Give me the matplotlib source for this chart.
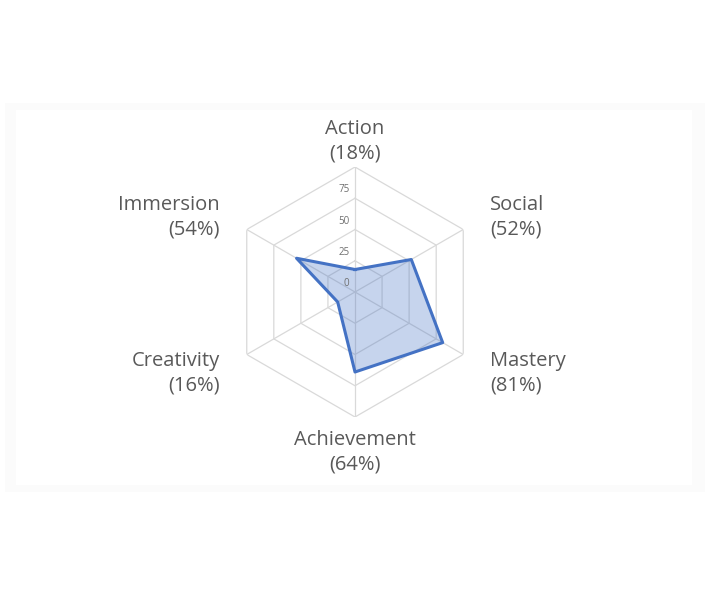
import numpy as np
import matplotlib
matplotlib.use("Agg")
import matplotlib.pyplot as plt
from matplotlib.patches import Rectangle

categories = ["Action", "Social", "Mastery", "Achievement", "Creativity", "Immersion"]
values = [18, 52, 81, 64, 16, 54]
rings = [25, 50, 75, 100]
tick_labels = ["0", "25", "50", "75"]

W, H = 710, 599
fig = plt.figure(figsize=(W / 100, H / 100), dpi=100)
fig.patch.set_facecolor("white")

# faint frame
fig.patches.append(Rectangle((5 / W, 1 - 492 / H), 700 / W, 389 / H,
                             transform=fig.transFigure, facecolor="#fbfbfb",
                             edgecolor="none", zorder=-10))
fig.patches.append(Rectangle((16 / W, 1 - 485 / H), 676 / W, 375 / H,
                             transform=fig.transFigure, facecolor="white",
                             edgecolor="none", zorder=-9))

cx, cy, R = 355, 292, 125
ax = fig.add_axes([(cx - R) / W, (H - cy - R) / H, 2 * R / W, 2 * R / H],
                  projection="polar")
ax.set_zorder(5)
ax.set_facecolor("none")
ax.set_theta_offset(np.pi / 2)
ax.set_theta_direction(-1)
ax.set_ylim(0, 100)
ax.grid(False)
ax.spines["polar"].set_visible(False)
ax.set_xticks([])
ax.set_yticks([])

n = len(categories)
theta = np.arange(n) * 2 * np.pi / n
theta_c = np.append(theta, theta[0])

grid_col = "#d9d9d9"
for r in rings:
    ax.plot(theta_c, [r] * (n + 1), color=grid_col, lw=0.9, zorder=1)
for t in theta:
    ax.plot([t, t], [0, 100], color=grid_col, lw=0.9, zorder=1)

vals_c = values + values[:1]
ax.fill(theta_c, vals_c, color="#4472C4", alpha=0.3, lw=0, zorder=2)
ax.plot(theta_c, vals_c, color="#4472C4", lw=2.2, zorder=3)

# radial tick labels
for v, lab in zip([0] + rings[:-1], tick_labels):
    ax.annotate(lab, xy=(0, v), xytext=(-4, 6), textcoords="offset points",
                ha="right", va="center", fontsize=7, color="#6f6f6f",
                family="Open Sans", annotation_clip=False)

label_col = "#595959"
pos = {
    0: (0, 121, "center"),
    1: (np.deg2rad(60.9), 123.5, "left"),
    2: (np.deg2rad(121), 126, "left"),
    3: (np.pi, 128, "center"),
    4: (np.deg2rad(239), 126, "right"),
    5: (np.deg2rad(299.1), 123.5, "right"),
}
for i, (cat, v) in enumerate(zip(categories, values)):
    t, r, ha = pos[i]
    ax.text(t, r, f"{cat}\n({v}%)", ha=ha, va="center", ma=ha,
            fontsize=14.5, color=label_col, family="Open Sans",
            linespacing=1.3, clip_on=False)

fig.savefig("out.png", dpi=100)
